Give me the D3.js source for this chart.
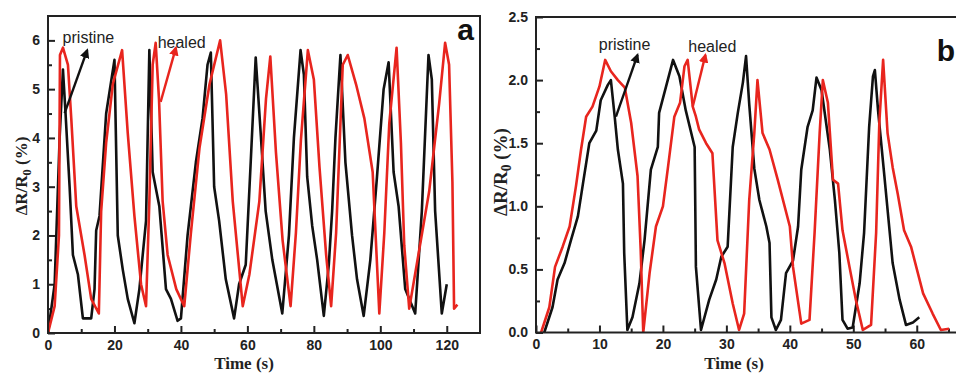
<!DOCTYPE html>
<html>
<head>
<meta charset="utf-8">
<script src="https://cdn.jsdelivr.net/npm/d3@7"></script>
<style>
  body { margin: 0; background: #fff; }
  .tick text { font-family: "Liberation Sans", Arial, sans-serif; font-weight: bold; font-size: 14px; fill: #222; }
  .domain { display: none; }
</style>
</head>
<body>
<div id="chart"></div>
<script>
// panel a : time (s), dR/R0 (%)
var pristineA = [[0,0],[2,1],[3.5,4],[4.5,5.4],[5.2,4.6],[6.5,3],[7.5,1.6],[9,1.2],[10.5,0.3],[12,0.3],[13,0.3],[14,0.9],[14.5,2.1],[15.5,2.4],[17.5,4.5],[20,5.6],[21,2.0],[22.5,1.3],[24,0.7],[26,0.2],[27.5,0.9],[29.5,2.3],[30.5,5.8],[31.5,3.3],[33.5,2.6],[35.5,0.9],[37,0.7],[39,0.25],[40,0.3],[42,2],[44.5,3.5],[46.5,4.4],[48,5.5],[49,5.75],[50,3],[51.5,2.3],[53.5,1.1],[56,0.3],[57.5,1],[59.5,1.4],[61,3.5],[62.5,5.65],[64,4.1],[65.5,2.5],[67.5,1.5],[70.5,0.4],[72.5,2.0],[74,4.0],[76,5.8],[77,5.3],[78,3.2],[79.5,2.2],[81,1.5],[83,0.35],[84.5,1.4],[85.5,2.5],[86.5,4.0],[88,5.7],[89.5,3.5],[91.5,2.0],[93,1.1],[95,0.35],[97,1.5],[99,3.2],[101,5.0],[102.5,5.55],[104,3.3],[105.5,2.6],[107.5,0.9],[110.5,0.4],[112.5,2.5],[114.5,5.7],[115.5,5.2],[116.5,2.5],[118.5,0.4],[120,1.0]];
var healedA = [[0,0],[2,0.55],[3.3,2],[3.6,5.7],[4.5,5.85],[6,5.5],[7,4.4],[8.5,2.6],[11,1.6],[13,0.7],[15.3,0.4],[16,2.5],[17.5,3.9],[19.5,5.1],[22.3,5.8],[24,4.1],[26,2.4],[28,1.0],[29.5,0.55],[30.5,2.7],[31.5,5.5],[32.4,5.95],[33.4,4.8],[34.5,2.7],[36,1.6],[38.6,0.9],[41,0.55],[43,2.05],[45.6,3.8],[48.6,5.1],[51.8,6.0],[53.6,4.9],[55.6,2.7],[58.6,0.55],[60.6,1.2],[63.6,2.7],[65.6,4.8],[66.9,5.67],[68.6,3.7],[70.6,1.9],[73,0.55],[74.6,2.05],[76.1,3.95],[78.2,5.8],[80,5.2],[81.7,3.4],[83.7,1.6],[85.2,0.55],[86.7,2.05],[88.7,5.5],[90.2,5.7],[92.7,5.1],[95.2,4.4],[97.7,3.3],[99.7,0.4],[101.2,2.05],[102.7,4.3],[104.9,5.85],[106.2,3.9],[107.2,1.8],[108.7,0.5],[111.7,1.7],[114.7,2.9],[117.7,4.7],[119.5,5.95],[120.7,5.5],[121.7,3.1],[122.2,0.5],[123.2,0.58]];

// panel b
var pristineB = [[1.3,0],[2.6,0.2],[3.4,0.42],[4.5,0.55],[5.5,0.73],[6.6,0.92],[7.4,1.18],[8.4,1.5],[9.5,1.6],[10.2,1.84],[11.3,1.96],[11.8,2.0],[12.4,1.71],[12.9,1.45],[13.7,1.18],[13.9,0.63],[14.4,0.02],[15.2,0.12],[16.3,0.39],[17.1,0.73],[18.1,1.29],[19.2,1.47],[19.4,1.74],[20.5,1.95],[21.6,2.16],[22.6,2.03],[23.6,1.76],[25,1.47],[25.2,0.52],[26,0.02],[27.3,0.26],[28.4,0.42],[29.2,0.6],[30.2,0.68],[31,1.47],[31.8,1.74],[32.6,1.98],[33.1,2.19],[33.6,1.81],[34.4,1.3],[35.2,1.05],[36.3,0.84],[36.8,0.71],[37.1,0.12],[37.8,0.02],[38.6,0.1],[39.4,0.47],[40.5,0.57],[41.3,0.84],[41.8,1.29],[42.8,1.63],[43.6,1.76],[44.2,2.02],[45,1.92],[46.3,1.45],[47.1,1.05],[47.8,0.63],[48.3,0.1],[49.1,0.03],[49.9,0.04],[51,0.39],[51.7,0.79],[52.5,1.63],[53.1,2.03],[53.4,2.08],[53.9,1.76],[54.9,1.24],[56.2,0.55],[57.3,0.26],[58.3,0.06],[59.4,0.08],[60.4,0.12]];
var healedB = [[0.8,0],[2.1,0.2],[3,0.52],[4.2,0.68],[5.3,0.84],[6.3,1.16],[7.1,1.45],[7.9,1.71],[8.9,1.79],[10,1.95],[10.9,2.16],[11.8,2.07],[12.9,2.0],[14,1.94],[15,1.66],[16,1.24],[16.5,0.65],[16.9,0],[17.9,0.47],[18.9,0.84],[20,1.0],[20.8,1.31],[21.8,1.71],[22.7,1.82],[23.4,2.11],[23.9,2.16],[24.7,1.79],[25.2,1.71],[25.7,1.61],[26.8,1.5],[27.8,1.42],[28.6,0.73],[29.7,0.55],[31,0.23],[32,0.02],[32.8,0.15],[33.6,1.05],[34.4,1.58],[34.9,2.0],[35.7,1.58],[36.8,1.45],[38.1,1.21],[40,0.84],[40.5,0.52],[41.8,0.07],[43.1,0.1],[43.9,0.79],[44.7,1.58],[45.2,2.0],[46,1.82],[46.8,1.21],[47.6,1.18],[48.3,0.81],[49.4,0.52],[50.4,0.26],[51.5,0.02],[52.8,0.06],[53.6,0.79],[54.1,1.66],[54.7,2.16],[55.4,1.58],[56.2,1.31],[57,1.1],[58,0.81],[59.1,0.68],[61,0.31],[62.5,0.15],[63.8,0.02],[65.1,0.03]];

var xTicksA = [0, 20, 40, 60, 80, 100, 120];
var yTicksA = [0, 1, 2, 3, 4, 5, 6];
var xTicksB = [0, 10, 20, 30, 40, 50, 60];
var yTicksB = [0, 0.5, 1.0, 1.5, 2.0, 2.5];

var black = "#111", red = "#e8251e";

var svg = d3.select("#chart").append("svg")
    .attr("width", 956)
    .attr("height", 373);

var defs = svg.append("defs");
[["arrBlack", black], ["arrRed", red]].forEach(function(m) {
    defs.append("marker")
        .attr("id", m[0])
        .attr("viewBox", "0 0 10 10")
        .attr("refX", 8).attr("refY", 5)
        .attr("markerWidth", 4).attr("markerHeight", 4)
        .attr("orient", "auto")
        .append("path")
        .attr("d", "M0,0 L10,5 L0,10 z")
        .style("fill", m[1]);
});

function panel(opt) {
    var x = d3.scaleLinear().domain(opt.xDomain).range([opt.left, opt.right]);
    var y = d3.scaleLinear().domain(opt.yDomain).range([opt.bottom, opt.top]);
    var g = svg.append("g");

    // minor ticks
    g.append("g")
        .attr("transform", "translate(0," + opt.bottom + ")")
        .call(d3.axisBottom(x).tickValues(opt.xMinor).tickSize(-4).tickFormat(""));
    g.append("g")
        .attr("transform", "translate(" + opt.left + ",0)")
        .call(d3.axisLeft(y).tickValues(opt.yMinor).tickSize(-4).tickFormat(""));

    g.append("g")
        .attr("transform", "translate(0," + opt.bottom + ")")
        .call(d3.axisBottom(x).tickValues(opt.xTicks).tickSizeInner(-7).tickSizeOuter(0).tickPadding(7));
    g.append("g")
        .attr("transform", "translate(" + opt.left + ",0)")
        .call(d3.axisLeft(y).tickValues(opt.yTicks).tickSizeInner(-7).tickSizeOuter(0).tickPadding(8).tickFormat(opt.yFormat));

    g.selectAll(".tick line").style("stroke", "#222").style("stroke-width", 2);

    var line = d3.line()
        .x(function(d) { return x(d[0]); })
        .y(function(d) { return y(d[1]); });

    var clipId = "clip" + opt.name;
    defs.append("clipPath").attr("id", clipId)
        .append("rect")
        .attr("x", opt.left).attr("y", opt.top)
        .attr("width", opt.right - opt.left).attr("height", opt.bottom - opt.top);

    [[opt.black, black], [opt.red, red]].forEach(function(s) {
        g.append("path")
            .datum(s[0])
            .attr("d", line)
            .attr("clip-path", "url(#" + clipId + ")")
            .style("fill", "none")
            .style("stroke", s[1])
            .style("stroke-width", 2.6)
            .style("stroke-linejoin", "round");
    });

    // frame
    g.append("rect")
        .attr("x", opt.left).attr("y", opt.top)
        .attr("width", opt.right - opt.left)
        .attr("height", opt.bottom - opt.top)
        .style("fill", "none")
        .style("stroke", "#222")
        .style("stroke-width", 2);

    // annotations
    g.append("text")
        .attr("x", x(opt.pLabel[0])).attr("y", y(opt.pLabel[1]))
        .style("font-family", "Liberation Sans, Arial, sans-serif")
        .style("font-size", "16px")
        .style("fill", "#222")
        .text("pristine");
    g.append("text")
        .attr("x", x(opt.hLabel[0])).attr("y", y(opt.hLabel[1]))
        .style("font-family", "Liberation Sans, Arial, sans-serif")
        .style("font-size", "16px")
        .style("fill", "#222")
        .text("healed");
    g.append("line")
        .attr("x1", x(opt.pArrow[0])).attr("y1", y(opt.pArrow[1]))
        .attr("x2", x(opt.pArrow[2])).attr("y2", y(opt.pArrow[3]))
        .style("stroke", black).style("stroke-width", 2.4)
        .attr("marker-end", "url(#arrBlack)");
    g.append("line")
        .attr("x1", x(opt.hArrow[0])).attr("y1", y(opt.hArrow[1]))
        .attr("x2", x(opt.hArrow[2])).attr("y2", y(opt.hArrow[3]))
        .style("stroke", red).style("stroke-width", 2.4)
        .attr("marker-end", "url(#arrRed)");

    g.append("text")
        .attr("x", opt.letterX).attr("y", opt.letterY)
        .attr("text-anchor", "end")
        .style("font-family", "Liberation Sans, Arial, sans-serif")
        .style("font-weight", "bold")
        .style("font-size", "30px")
        .style("fill", "#111")
        .text(opt.name);

    // axis titles
    g.append("text")
        .attr("x", (opt.left + opt.titleRight) / 2)
        .attr("y", 369)
        .attr("text-anchor", "middle")
        .style("font-family", "Liberation Serif, Times New Roman, serif")
        .style("font-weight", "bold")
        .style("font-size", "17px")
        .style("fill", "#222")
        .text("Time (s)");

    var yt = g.append("text")
        .attr("text-anchor", "middle")
        .attr("transform", "translate(" + opt.yTitleX + "," + opt.yTitleY + ")rotate(-90)")
        .style("font-family", "Liberation Serif, Times New Roman, serif")
        .style("font-weight", "bold")
        .style("font-size", opt.yTitleSize + "px")
        .style("fill", "#222");
    yt.append("tspan").text("\u0394R/R");
    yt.append("tspan").attr("dy", 4).style("font-size", "0.72em").text("0");
    yt.append("tspan").attr("dy", -4).text(" (%)");
}

panel({
    name: "a",
    xDomain: [0, 130], yDomain: [0, 6.5],
    left: 48, right: 480, top: 16, bottom: 333,
    titleRight: 440,
    xTicks: xTicksA, yTicks: yTicksA,
    xMinor: [10, 30, 50, 70, 90, 110], yMinor: [0.5, 1.5, 2.5, 3.5, 4.5, 5.5],
    yFormat: d3.format("d"),
    black: pristineA, red: healedA,
    pLabel: [4.4, 5.95], hLabel: [33, 5.85],
    pArrow: [5.0, 4.51, 11.8, 5.8], hArrow: [33.9, 4.74, 38.5, 5.85],
    letterX: 474, letterY: 40,
    yTitleX: 27, yTitleY: 176, yTitleSize: 17
});

panel({
    name: "b",
    xDomain: [0, 66.5], yDomain: [0, 2.5],
    left: 536, right: 958, top: 17, bottom: 332.5,
    titleRight: 932,
    xTicks: xTicksB, yTicks: yTicksB,
    xMinor: [5, 15, 25, 35, 45, 55, 65], yMinor: [0.25, 0.75, 1.25, 1.75, 2.25],
    yFormat: d3.format(".1f"),
    black: pristineB, red: healedB,
    pLabel: [9.9, 2.24], hLabel: [24, 2.22],
    pArrow: [12.6, 1.71, 16.0, 2.2], hArrow: [24.7, 1.79, 26.7, 2.2],
    letterX: 955, letterY: 61,
    yTitleX: 507, yTitleY: 172, yTitleSize: 19
});
</script>
</body>
</html>
